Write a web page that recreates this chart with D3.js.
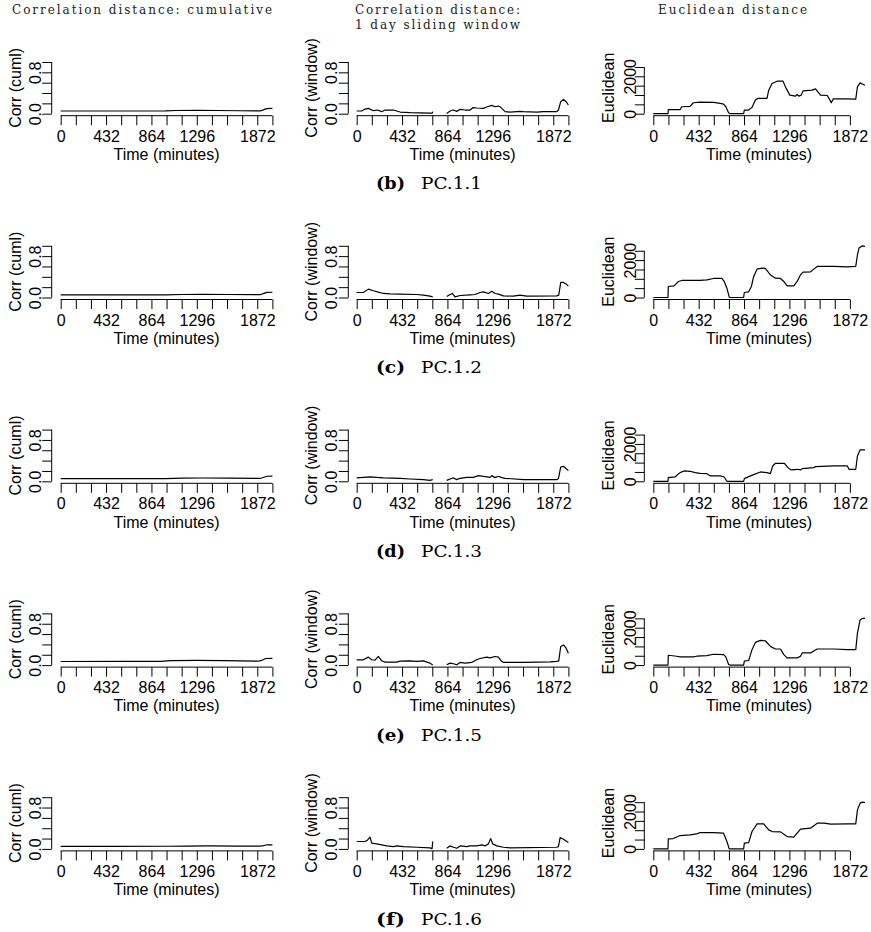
<!DOCTYPE html>
<html><head><meta charset="utf-8">
<script src="https://cdn.jsdelivr.net/npm/d3@7"></script>
<style>body{margin:0;background:#fff}</style>
</head><body><svg id="c" width="871" height="932"></svg>
<script>
// ---------- labels ----------
const captionLetters = ["(b)", "(c)", "(d)", "(e)", "(f)"];
const captionNames = ["PC.1.1", "PC.1.2", "PC.1.3", "PC.1.5", "PC.1.6"];
const columnTitles = [["Correlation distance: cumulative"], ["Correlation distance:", "1 day sliding window"], ["Euclidean distance"]];
const yAxisTitles = ["Corr (cuml)", "Corr (window)", "Euclidean"];
const xAxisTitle = "Time (minutes)";
const xTicksCorr = [0,144,288,432,576,720,864,1008,1152,1296,1440,1584,1728,1872,2016];
const xTicksEuc = [0,144,288,432,576,720,864,1008,1152,1296,1440,1584,1728,1872];
const xTickLabels = [0, 432, 864, 1296, 1872];
const corrTicks = [0, 0.2, 0.4, 0.6, 0.8, 1.0];
const corrTickLabels = [0, 0.8];
const eucTicks = [0, 500, 1000, 1500, 2000, 2500];
const eucTickLabels = [0, 2000];
const xMax = 2016, corrMax = 1.0, eucMax = 2766;

// ---------- data: [minute, value] ----------
const cumlB = [[0,0.052],[500,0.052],[1000,0.053],[1100,0.062],[1300,0.066],[1500,0.062],[1700,0.057],[1900,0.055],[1930,0.075],[1960,0.098],[2016,0.102]];
const cumlC = [[0,0.05],[500,0.05],[1000,0.052],[1150,0.058],[1350,0.062],[1600,0.058],[1900,0.054],[1935,0.08],[1965,0.1],[2016,0.102]];
const cumlD = [[0,0.05],[500,0.05],[1000,0.052],[1150,0.06],[1350,0.064],[1600,0.06],[1900,0.055],[1935,0.078],[1965,0.098],[2016,0.1]];
const cumlE = [[0,0.07],[600,0.071],[950,0.073],[1050,0.085],[1300,0.09],[1550,0.085],[1880,0.075],[1915,0.09],[1950,0.128],[2016,0.132]];
const cumlF = [[0,0.05],[500,0.05],[1000,0.051],[1200,0.055],[1400,0.057],[1700,0.054],[1900,0.052],[1935,0.065],[1965,0.08],[2016,0.078]];

const windowB = [[0,0.052],[48,0.052],[79,0.09],[111,0.103],[159,0.058],[197,0.071],[238,0.039],[270,0.071],[349,0.071],[413,0.032],[508,0.019],[698,0.013],[720,0.01],[724,0.04],[790,null],
  [857,0.006],[889,0.052],[921,0.071],[953,0.045],[984,0.084],[1032,0.071],[1080,0.071],[1105,0.116],[1143,0.11],[1207,0.103],[1238,0.129],[1286,0.161],[1318,0.135],[1349,0.148],[1372,0.123],[1413,0.039],[1461,0.032],[1556,0.045],[1588,0.039],[1715,0.032],[1778,0.039],[1905,0.039],[1921,0.071],[1943,0.232],[1969,0.277],[1994,0.232],[2016,0.168]];
const windowC = [[0,0.097],[63,0.097],[111,0.162],[159,0.13],[206,0.104],[254,0.078],[318,0.071],[413,0.065],[572,0.058],[635,0.045],[698,0.026],[724,0.013],[790,null],
  [857,0.02],[889,0.058],[911,0.078],[937,0.013],[984,0.039],[1080,0.052],[1127,0.058],[1175,0.097],[1207,0.11],[1254,0.078],[1286,0.123],[1318,0.078],[1349,0.065],[1397,0.032],[1492,0.026],[1556,0.045],[1619,0.026],[1905,0.032],[1924,0.045],[1943,0.292],[1969,0.292],[1994,0.26],[2016,0.22]];
const windowD = [[0,0.065],[127,0.084],[254,0.065],[413,0.058],[508,0.045],[635,0.032],[698,0.019],[724,0.032],[790,null],
  [857,0.019],[889,0.045],[921,0.065],[953,0.032],[984,0.058],[1048,0.077],[1111,0.077],[1159,0.11],[1207,0.097],[1270,0.077],[1286,0.11],[1318,0.071],[1349,0.097],[1381,0.071],[1413,0.058],[1588,0.032],[1905,0.032],[1921,0.052],[1943,0.277],[1969,0.29],[2016,0.206]];
const windowE = [[0,0.103],[63,0.103],[111,0.154],[143,0.103],[175,0.096],[206,0.167],[238,0.083],[270,0.058],[381,0.058],[413,0.077],[508,0.083],[572,0.071],[635,0.083],[698,0.038],[724,0.0],[790,null],
  [857,0.006],[889,0.038],[921,0.026],[953,0.006],[984,0.051],[1032,0.038],[1095,0.051],[1143,0.103],[1175,0.128],[1238,0.154],[1270,0.141],[1318,0.167],[1349,0.154],[1372,0.09],[1397,0.051],[1588,0.051],[1842,0.064],[1905,0.071],[1924,0.083],[1943,0.36],[1969,0.39],[1994,0.327],[2016,0.23]];
const windowF = [[0,0.143],[79,0.143],[102,0.169],[127,0.227],[143,0.11],[190,0.097],[286,0.058],[349,0.045],[381,0.058],[445,0.045],[572,0.032],[698,0.019],[718,0.006],[724,0.143],[790,null],
  [857,0.013],[889,0.058],[921,0.032],[953,0.013],[984,0.058],[1048,0.045],[1080,0.058],[1143,0.058],[1191,0.078],[1222,0.058],[1254,0.097],[1276,0.2],[1295,0.097],[1334,0.058],[1397,0.032],[1461,0.019],[1905,0.032],[1921,0.045],[1937,0.22],[1969,0.188],[2016,0.123]];

const euclidB = [[0,0],[140,0],[143,213],[255,213],[271,372],[350,390],[382,585],[446,620],[573,603],[637,550],[669,514],[691,372],[717,53],[733,0],[860,0],[867,195],[908,195],[940,337],[972,727],[994,816],[1083,816],[1099,1259],[1131,1613],[1179,1738],[1236,1738],[1258,1436],[1300,993],[1354,940],[1370,1028],[1386,940],[1408,993],[1427,1223],[1513,1259],[1545,1330],[1567,1170],[1593,993],[1657,975],[1682,727],[1695,585],[1714,798],[1816,798],[1928,780],[1944,1436],[1969,1649],[1995,1580],[2016,1520]];
const euclidC = [[0,0],[140,0],[143,589],[198,625],[239,857],[271,911],[446,911],[510,947],[573,1018],[653,1018],[675,857],[701,500],[723,18],[733,0],[860,0],[867,268],[908,304],[934,589],[956,1125],[988,1518],[1035,1572],[1067,1554],[1115,1214],[1163,1036],[1211,1018],[1243,857],[1274,625],[1338,625],[1370,857],[1402,1214],[1427,1357],[1497,1375],[1529,1518],[1561,1661],[1720,1661],[1848,1643],[1928,1661],[1944,2286],[1959,2643],[1991,2766],[2016,2740]];
const euclidD = [[0,0],[140,0],[143,196],[207,232],[255,464],[293,554],[350,536],[398,464],[446,429],[510,411],[542,286],[637,286],[675,232],[701,0],[860,0],[867,143],[908,250],[956,357],[1020,500],[1083,464],[1115,411],[1137,821],[1163,964],[1249,964],[1281,732],[1313,607],[1370,643],[1402,607],[1418,679],[1529,732],[1545,786],[1720,821],[1848,821],[1864,643],[1928,643],[1944,1357],[1969,1679],[2016,1679]];
const euclidE = [[0,0],[140,0],[143,528],[223,475],[255,440],[382,440],[414,475],[510,510],[573,581],[669,563],[691,440],[717,35],[733,0],[860,0],[867,211],[908,246],[940,827],[972,1214],[1020,1320],[1067,1302],[1115,1003],[1163,862],[1211,862],[1243,563],[1274,387],[1370,387],[1402,475],[1418,651],[1497,651],[1561,862],[1720,862],[1848,827],[1928,827],[1944,1707],[1969,2411],[1991,2499],[2016,2499]];
const euclidF = [[0,0],[140,0],[143,536],[191,554],[255,714],[350,750],[414,804],[446,875],[573,875],[669,839],[701,393],[723,0],[860,0],[867,304],[908,339],[940,929],[988,1339],[1051,1339],[1099,1018],[1131,929],[1211,911],[1274,661],[1338,625],[1402,1054],[1497,1107],[1561,1375],[1625,1375],[1689,1321],[1848,1339],[1928,1339],[1944,2089],[1969,2447],[1991,2500],[2016,2482]];

const cumlSeries = [cumlB, cumlC, cumlD, cumlE, cumlF];
const windowSeries = [windowB, windowC, windowD, windowE, windowF];
const euclidSeries = [euclidB, euclidC, euclidD, euclidE, euclidF];

// ---------- layout ----------
const svg = d3.select("#c");
svg.append("rect").attr("width", 871).attr("height", 932).attr("fill", "#fff");
const SANS = "'Liberation Sans', Arial, Helvetica, sans-serif";
const SERIF = "'DejaVu Serif', 'Liberation Serif', serif";
const FS = 16;
const row0 = 113.7, rowStep = 183.8, dataH = 51.7, dataW = 211.7;
const colAxisX = [51.7, 348.3, 644.3];
const colX0 = [60.7, 356.7, 653.3];
const yLabOff = [-16.7, -17.5, -14];
const yTitleOff = [-36.7, -37.5, -36.2];

// column titles
const titleSpec = [{x: 12, w: 260}, {x: 355, w: 165}, {x: 658, w: 149}];
columnTitles.forEach((lines, ci) => {
  lines.forEach((t, li) => {
    svg.append("text").attr("x", titleSpec[ci].x).attr("y", 14 + li * 14.6)
      .attr("font-family", SERIF).attr("font-size", 12).attr("fill", "#222")
      .attr("textLength", titleSpec[ci].w).attr("lengthAdjust", "spacing")
      .text(t);
  });
});

const line = d3.line().defined(d => d[1] !== null);

for (let r = 0; r < 5; r++) {
  const y0 = row0 + r * rowStep;
  const panels = [
    {data: cumlSeries[r], yMax: corrMax, yTicks: corrTicks, yLabs: corrTickLabels, xTicks: xTicksCorr, fmt: d3.format(".1f")},
    {data: windowSeries[r], yMax: corrMax, yTicks: corrTicks, yLabs: corrTickLabels, xTicks: xTicksCorr, fmt: d3.format(".1f")},
    {data: euclidSeries[r], yMax: eucMax, yTicks: eucTicks, yLabs: eucTickLabels, xTicks: xTicksEuc, fmt: d3.format("d")}
  ];
  panels.forEach((p, ci) => {
    const g = svg.append("g");
    const x = d3.scaleLinear().domain([0, xMax]).range([colX0[ci], colX0[ci] + dataW]);
    const y = d3.scaleLinear().domain([0, p.yMax]).range([y0, y0 - dataH]);
    const axisY = y0 + 2;
    const ax = colAxisX[ci];

    // x axis
    const xa = d3.axisBottom(x).tickValues(p.xTicks).tickSize(9.5).tickSizeOuter(0)
      .tickFormat(d => xTickLabels.includes(d) ? d : "");
    const gx = g.append("g").attr("transform", `translate(0,${axisY})`).call(xa);
    gx.select(".domain").remove();
    gx.append("line").attr("x1", x(p.xTicks[0])).attr("x2", x(p.xTicks[p.xTicks.length - 1]))
      .attr("stroke", "#000").attr("stroke-width", 1);
    gx.selectAll(".tick line").attr("stroke", "#000");
    gx.selectAll(".tick text").attr("y", 26).attr("dy", 0).attr("fill", "#000")
      .attr("font-family", SANS).attr("font-size", FS);

    // y axis
    const ya = d3.axisLeft(y).tickValues(p.yTicks).tickSize(9.5).tickSizeOuter(0)
      .tickFormat(d => p.yLabs.includes(d) ? p.fmt(d) : "");
    const gy = g.append("g").attr("transform", `translate(${ax},0)`).call(ya);
    gy.select(".domain").remove();
    gy.append("line").attr("y1", y(p.yTicks[0])).attr("y2", y(p.yTicks[p.yTicks.length - 1]))
      .attr("stroke", "#000").attr("stroke-width", 1);
    gy.selectAll(".tick line").attr("stroke", "#000");
    gy.selectAll(".tick text").attr("x", null)
      .attr("transform", `translate(${yLabOff[ci]},0) rotate(-90)`)
      .attr("text-anchor", "middle").attr("dy", "0.36em").attr("fill", "#000")
      .attr("font-family", SANS).attr("font-size", FS);

    // axis titles
    g.append("text").attr("x", (x(0) + x(xMax)) / 2).attr("y", y0 + 46.3)
      .attr("text-anchor", "middle").attr("font-family", SANS).attr("font-size", FS).text(xAxisTitle);
    g.append("text").attr("transform", `translate(${ax + yTitleOff[ci]},${y0 - dataH / 2}) rotate(-90)`)
      .attr("text-anchor", "middle").attr("dy", "0.36em").attr("font-family", SANS).attr("font-size", FS)
      .text(yAxisTitles[ci]);

    // data line
    g.append("path").datum(p.data)
      .attr("d", line.x(d => x(d[0])).y(d => y(d[1])))
      .attr("fill", "none").attr("stroke", "#000").attr("stroke-width", 1.2).attr("stroke-linejoin", "round");
  });

  // caption
  svg.append("text").attr("x", 376).attr("y", y0 + 75.6)
    .attr("font-family", SERIF).attr("font-size", 16).attr("font-weight", "bold")
    .attr("textLength", 29).attr("lengthAdjust", "spacingAndGlyphs").text(captionLetters[r]);
  svg.append("text").attr("x", 421).attr("y", y0 + 75.6)
    .attr("font-family", SERIF).attr("font-size", 16.5)
    .attr("textLength", 61).attr("lengthAdjust", "spacingAndGlyphs").text(captionNames[r]);
}
</script></body></html>
